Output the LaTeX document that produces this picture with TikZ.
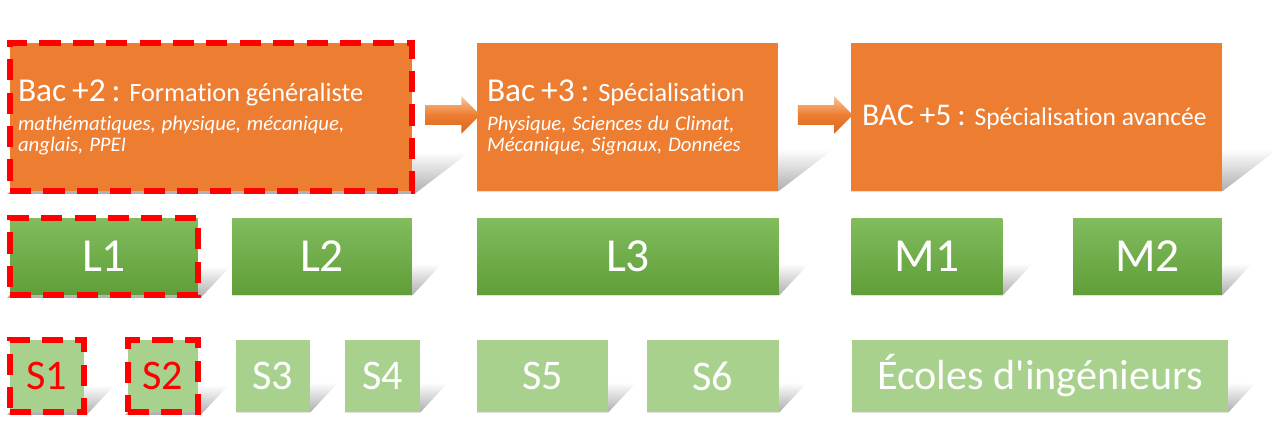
\documentclass[tikz,border=0pt]{standalone}
\usepackage{fontspec}
\setmainfont{Carlito}[Ligatures=NoCommon]
\usetikzlibrary{shapes.arrows,calc,backgrounds}

\definecolor{boxorange}{HTML}{ED7D31}
\definecolor{arrowhi}{HTML}{F9C497}
\definecolor{arrowlo}{HTML}{D8681C}
\definecolor{ltop}{HTML}{82BC5E}
\definecolor{lbot}{HTML}{5F9E37}
\definecolor{sgreen}{HTML}{A9D18E}
\definecolor{selred}{HTML}{FF0000}

\tikzset{
  orangebox/.style={fill=boxorange, text=white, align=left, minimum height=2.96cm, inner ysep=0pt},
  flowarrow/.style={single arrow, inner sep=0.19cm, single arrow head extend=0.18cm,
    minimum height=1.1cm, top color=arrowhi, bottom color=arrowlo, middle color=boxorange},
  lbox/.style={top color=ltop, bottom color=lbot, text=white, minimum height=1.54cm,
    font=\fontsize{27}{30}\selectfont},
  sbox/.style={fill=sgreen, text=white, minimum height=1.44cm,
    font=\fontsize{24}{28}\selectfont},
  selbox/.style={draw=selred, line width=3.2pt, dash pattern=on 12pt off 7pt}
}

\begin{document}
\begin{tikzpicture}[x=0.02cm, y=-0.02cm]
  \useasboundingbox (0,0) rectangle (1279,447);

  % orange row
  \node[orangebox, selbox, text width=7.72cm, inner xsep=0.16cm] (bac2) at (211,117)
    {{\fontsize{19}{22}\selectfont Bac +2 :} {\fontsize{15}{18}\selectfont Formation généraliste}\\[2pt]
     \fontsize{11.8}{14.5}\selectfont\itshape mathématiques, physique, mécanique,\\ anglais, PPEI};
  \node[orangebox, text width=5.62cm, inner xsep=0.2cm] (bac3) at (627.5,117)
    {{\fontsize{19}{22}\selectfont Bac +3 :} {\fontsize{15}{18}\selectfont Spécialisation}\\[2pt]
     \fontsize{11.8}{14.5}\selectfont\itshape Physique, Sciences du Climat,\\ Mécanique, Signaux, Données};
  \node[orangebox, text width=6.98cm, inner xsep=0.22cm] (bac5) at (1036.5,117)
    {{\fontsize{18}{22}\selectfont BAC +5 :} {\fontsize{14.5}{18}\selectfont Spécialisation avancée}};

  \node[flowarrow] (a23) at ($(bac2.east)!0.5!(bac3.west)+(2,-2)$) {};
  \node[flowarrow] (a35) at ($(bac3.east)!0.5!(bac5.west)+(6,-2)$) {};

  % years
  \node[lbox, selbox, minimum width=3.76cm] (l1) at (104,256.5) {L1};
  \node[lbox, minimum width=3.6cm] (l2) at (322,256.5) {L2};
  \node[lbox, minimum width=6.04cm] (l3) at (628,256.5) {L3};
  \node[lbox, minimum width=3.02cm] (m1) at (927,256.5) {M1};
  \node[lbox, minimum width=2.98cm] (m2) at (1147.5,256.5) {M2};

  % semesters
  \node[sbox, selbox, text=selred, minimum width=1.48cm] (s1) at (47,376) {S1};
  \node[sbox, selbox, text=selred, minimum width=1.4cm] (s2) at (163,376) {S2};
  \node[sbox, minimum width=1.48cm] (s3) at (273,376) {S3};
  \node[sbox, minimum width=1.5cm] (s4) at (382.5,376) {S4};
  \node[sbox, minimum width=2.62cm] (s5) at (542.5,376) {S5};
  \node[sbox, minimum width=2.64cm] (s6) at (713,376) {S6};
  \node[sbox, minimum width=7.52cm] (ecoles) at (1040,376) {Écoles d\textquotesingle ingénieurs};

  % shadows
  \begin{scope}[on background layer]
    \foreach \n/\dx/\dy in {bac2/55/42, bac3/55/42, bac5/55/42, l1/30/32, l2/30/32, l3/30/32,
        m1/30/32, m2/30/32, s1/28/30, s2/28/30, s3/28/30, s4/28/30, s5/28/30, s6/28/30, ecoles/28/30}
      \shade[top color=white, bottom color=black!32] (\n.south west) -- (\n.south east)
        -- ($(\n.south east)+(\dx,-\dy)$) -- ($(\n.south west)+(\dx,-\dy)$) -- cycle;
  \end{scope}
\end{tikzpicture}
\end{document}
